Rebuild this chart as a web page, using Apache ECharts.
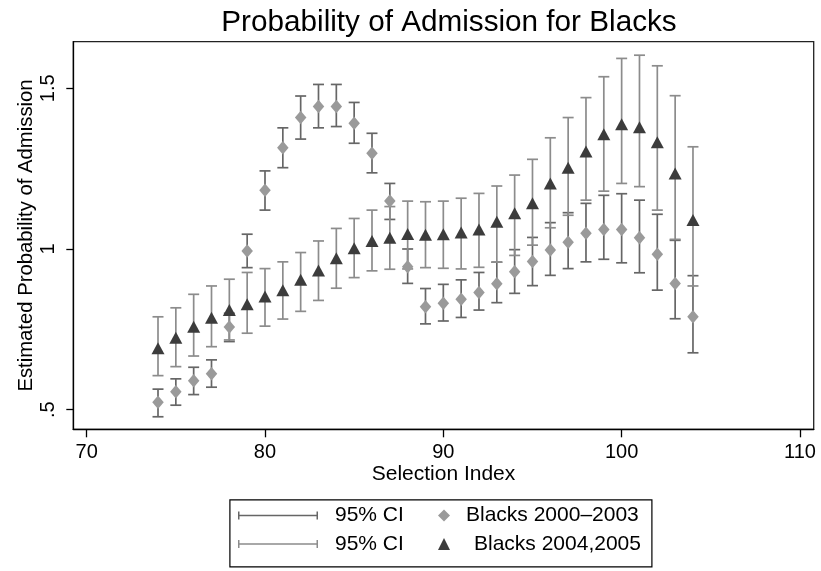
<!DOCTYPE html>
<html>
<head>
<meta charset="utf-8">
<script src="https://cdn.jsdelivr.net/npm/echarts@6/dist/echarts.min.js"></script>
<style>
  html, body { margin: 0; padding: 0; background: #fff; }
  #chart { width: 821px; height: 571px; }
</style>
</head>
<body>
<div id="chart"></div>
<script>
// Selection index values (x)
const selectionIndex = [74, 75, 76, 77, 78, 79, 80, 81, 82, 83, 84, 85, 86, 87, 88, 89,
  90, 91, 92, 93, 94, 95, 96, 97, 98, 99, 100, 101, 102, 103, 104];

// Blacks 2000–2003: estimate and 95% CI bounds
const est0003 = [0.523, 0.556, 0.590, 0.612, 0.757, 0.994, 1.183, 1.315, 1.409, 1.443, 1.443,
  1.391, 1.298, 1.149, 0.945, 0.820, 0.831, 0.844, 0.865, 0.892, 0.929, 0.961, 0.997, 1.021,
  1.049, 1.061, 1.061, 1.035, 0.984, 0.893, 0.789];
const lo0003 = [0.478, 0.514, 0.547, 0.570, 0.712, 0.942, 1.121, 1.253, 1.342, 1.377, 1.381,
  1.329, 1.237, 1.092, 0.893, 0.767, 0.776, 0.787, 0.810, 0.833, 0.862, 0.886, 0.918, 0.939,
  0.960, 0.968, 0.957, 0.926, 0.872, 0.783, 0.677];
const hi0003 = [0.564, 0.596, 0.632, 0.655, 0.800, 1.046, 1.243, 1.377, 1.476, 1.512, 1.512,
  1.456, 1.360, 1.204, 1.000, 0.877, 0.890, 0.904, 0.927, 0.959, 0.998, 1.036, 1.082, 1.113,
  1.142, 1.167, 1.172, 1.152, 1.108, 1.027, 0.917];

// Blacks 2004,2005: estimate and 95% CI bounds
const est0405 = [0.691, 0.724, 0.758, 0.786, 0.810, 0.828, 0.852, 0.872, 0.904, 0.933, 0.971,
  1.002, 1.025, 1.035, 1.047, 1.044, 1.046, 1.051, 1.061, 1.085, 1.111, 1.142, 1.204, 1.253,
  1.303, 1.357, 1.388, 1.379, 1.332, 1.235, 1.090];
const lo0405 = [0.606, 0.634, 0.667, 0.696, 0.717, 0.738, 0.760, 0.782, 0.806, 0.840, 0.878,
  0.911, 0.932, 0.937, 0.938, 0.942, 0.940, 0.938, 0.943, 0.959, 0.980, 1.012, 1.066, 1.105,
  1.152, 1.180, 1.204, 1.194, 1.121, 1.030, 0.885];
const hi0405 = [0.789, 0.817, 0.859, 0.885, 0.906, 0.927, 0.939, 0.960, 0.989, 1.025, 1.064,
  1.095, 1.121, 1.132, 1.149, 1.147, 1.149, 1.158, 1.173, 1.196, 1.230, 1.279, 1.346, 1.409,
  1.471, 1.536, 1.593, 1.603, 1.570, 1.477, 1.318];

// Axis ticks and labels
const xTicks = [70, 80, 90, 100, 110];
const yTicks = [0.5, 1, 1.5];
const yTickLabels = ['.5', '1', '1.5'];

const FONT = '"Liberation Sans", Arial, Helvetica, sans-serif';
const CI_DARK = '#666666';
const CI_LIGHT = '#8c8c8c';
const DIAMOND = '#9a9a9a';
const TRIANGLE = '#3c3c3c';
const CAP_ICON = 'path://M0,0H1.5V8H0Z M1.5,3.3H78.5V4.7H1.5Z M78.5,0H80V8H78.5Z';

// Vertical capped interval between the low and high bound at one x
function capBars(color) {
  return function (params, api) {
    const x = api.value(0);
    const pLo = api.coord([x, api.value(1)]);
    const pHi = api.coord([x, api.value(2)]);
    const hw = 5.5;
    const st = { stroke: color, lineWidth: 1.7 };
    return {
      type: 'group',
      children: [
        { type: 'line', shape: { x1: pLo[0], y1: pLo[1], x2: pHi[0], y2: pHi[1] }, style: st },
        { type: 'line', shape: { x1: pLo[0] - hw, y1: pLo[1], x2: pLo[0] + hw, y2: pLo[1] }, style: st },
        { type: 'line', shape: { x1: pHi[0] - hw, y1: pHi[1], x2: pHi[0] + hw, y2: pHi[1] }, style: st }
      ]
    };
  };
}

const ciData0003 = selectionIndex.map((x, i) => [x, lo0003[i], hi0003[i]]);
const ciData0405 = selectionIndex.map((x, i) => [x, lo0405[i], hi0405[i]]);
const pts0003 = selectionIndex.map((x, i) => [x, est0003[i]]);
const pts0405 = selectionIndex.map((x, i) => [x, est0405[i]]);

const chart = echarts.init(document.getElementById('chart'), null, { renderer: 'canvas' });

chart.setOption({
  backgroundColor: '#ffffff',
  animation: false,
  textStyle: { fontFamily: FONT },
  title: {
    text: 'Probability of Admission for Blacks',
    left: 444,
    textAlign: 'center',
    top: 3,
    textStyle: { fontFamily: FONT, fontSize: 29.7, fontWeight: 'normal', color: '#000' }
  },
  grid: {
    left: 73.3, top: 41.7, right: 7.3, bottom: 141.7,
    show: true, borderColor: '#222', borderWidth: 1.3, backgroundColor: '#fff'
  },
  xAxis: {
    type: 'value',
    min: 69.25, max: 110.77,
    name: 'Selection Index',
    nameLocation: 'middle',
    nameGap: 34,
    nameMoveOverlap: false,
    nameTextStyle: { fontFamily: FONT, fontSize: 21, color: '#000' },
    splitLine: { show: false },
    axisLine: { show: true, onZero: false, lineStyle: { color: '#000', width: 1.3 } },
    axisTick: { show: true, length: 8, customValues: xTicks, lineStyle: { color: '#000', width: 1.3 } },
    axisLabel: { customValues: xTicks, margin: 13, fontFamily: FONT, fontSize: 20, color: '#000' }
  },
  yAxis: {
    type: 'value',
    min: 0.439, max: 1.645,
    name: 'Estimated Probability of Admission',
    nameLocation: 'middle',
    nameGap: 37,
    nameMoveOverlap: false,
    nameTextStyle: { fontFamily: FONT, fontSize: 20.3, color: '#000' },
    splitLine: { show: false },
    axisLine: { show: true, onZero: false, lineStyle: { color: '#000', width: 1.3 } },
    axisTick: { show: true, length: 7, customValues: yTicks, lineStyle: { color: '#000', width: 1.3 } },
    axisLabel: {
      customValues: yTicks,
      rotate: 90,
      margin: 15,
      fontFamily: FONT, fontSize: 20, color: '#000',
      formatter: function (v) {
        const k = yTicks.findIndex(t => Math.abs(t - v) < 1e-9);
        return k >= 0 ? yTickLabels[k] : '';
      }
    }
  },
  graphic: [{
    type: 'rect',
    left: 229.3, top: 499.3,
    shape: { width: 422, height: 67 },
    style: { fill: '#fff', stroke: '#000', lineWidth: 1.2 },
    z: 0
  }],
  legend: [
    {
      left: 238, top: 505, orient: 'vertical', padding: 0, itemGap: 7.5,
      itemWidth: 80, itemHeight: 8, selectedMode: false, z: 5,
      formatter: () => '95% CI',
      textStyle: { fontFamily: FONT, fontSize: 21, color: '#000', lineHeight: 21, padding: [0, 0, 0, 12] },
      data: [
        { name: 'CI 2000–2003', icon: CAP_ICON, itemStyle: { color: CI_DARK, borderWidth: 0 } },
        { name: 'CI 2004,2005', icon: CAP_ICON, itemStyle: { color: CI_LIGHT, borderWidth: 0 } }
      ]
    },
    {
      left: 438, top: 505, orient: 'vertical', padding: 0, itemGap: 7.5,
      itemWidth: 12, itemHeight: 12, selectedMode: false, z: 5,
      textStyle: { fontFamily: FONT, fontSize: 21, color: '#000', lineHeight: 21 },
      data: [
        { name: 'Blacks 2000–2003', textStyle: { padding: [0, 0, 0, 11] } },
        { name: 'Blacks 2004,2005', textStyle: { padding: [0, 0, 0, 19] } }
      ]
    }
  ],
  series: [
    {
      name: 'CI 2000–2003',
      type: 'custom',
      renderItem: capBars(CI_DARK),
      itemStyle: { color: CI_DARK },
      encode: { x: 0, y: [1, 2] },
      data: ciData0003,
      z: 2
    },
    {
      name: 'CI 2004,2005',
      type: 'custom',
      renderItem: capBars(CI_LIGHT),
      itemStyle: { color: CI_LIGHT },
      encode: { x: 0, y: [1, 2] },
      data: ciData0405,
      z: 2
    },
    {
      name: 'Blacks 2000–2003',
      type: 'scatter',
      symbol: 'diamond',
      symbolSize: [11.5, 13.5],
      itemStyle: { color: DIAMOND, opacity: 1 },
      data: pts0003,
      z: 3
    },
    {
      name: 'Blacks 2004,2005',
      type: 'scatter',
      symbol: 'triangle',
      symbolSize: [13, 12],
      itemStyle: { color: TRIANGLE, opacity: 1 },
      data: pts0405,
      z: 4
    }
  ]
});
</script>
</body>
</html>
